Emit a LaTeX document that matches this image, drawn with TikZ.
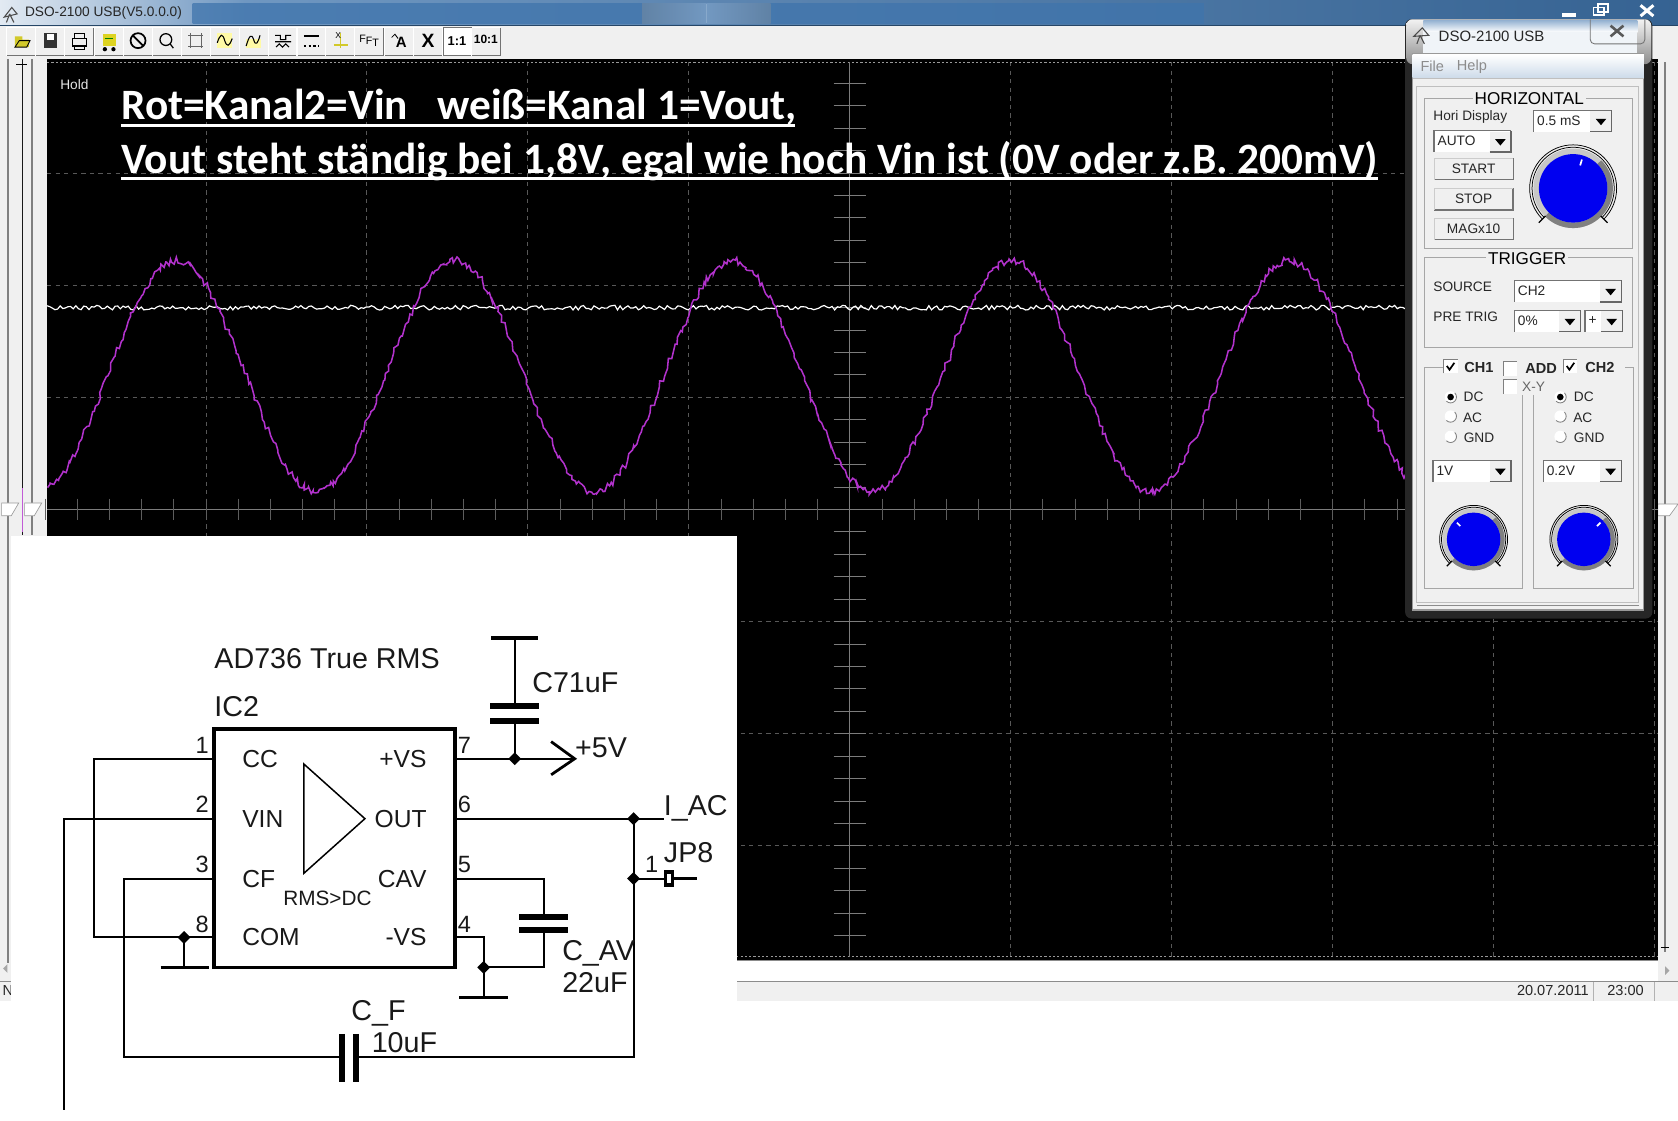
\documentclass[tikz,border=0pt]{standalone}
\usepackage{fontspec}
\setmainfont{Liberation Sans}
\newfontfamily\headfont{Carlito}[BoldFont=Carlito Bold]
\usetikzlibrary{calc}
\definecolor{winbg}{HTML}{F0F0F0}
\definecolor{axisgr}{HTML}{7C7C7C}
\definecolor{griddash}{HTML}{585858}
\definecolor{trace}{HTML}{B232CC}
\definecolor{knobblue}{HTML}{0000F0}
\definecolor{titleblue}{HTML}{3F74AC}
\tikzset{
  panellbl/.style={font=\fontsize{6.4}{7}\selectfont,inner sep=0pt,text=black!85},
  paneltitle/.style={font=\fontsize{8}{9}\selectfont,inner sep=1pt,fill=winbg,text=black},
  panelframe/.style={draw=black!35,line width=.4pt},
  wire/.style={draw=black,line width=.9pt},
  plate/.style={draw=black,line width=2.8pt},
  sch/.style={inner sep=0pt,text=black!90,font=\fontsize{11.5}{12}\selectfont},
  schbig/.style={inner sep=0pt,text=black!90,font=\fontsize{13.4}{14}\selectfont},
  pinno/.style={inner sep=0pt,text=black!90,font=\fontsize{11}{12}\selectfont},
  head/.style={inner sep=0pt,anchor=base west,text=white,font=\headfont\bfseries\fontsize{20.25}{22}\selectfont},
}
\newcommand{\tbtn}[1]{%
  \fill[winbg] (#1-13.5,26) rectangle (#1+13.5,52);
  \draw[black!55,line width=.5pt] (#1-13.5,52) -- (#1+13.5,52) -- (#1+13.5,26);
  \draw[white,line width=.5pt] (#1-13.5,52) -- (#1-13.5,26) -- (#1+13.5,26);}
\newcommand{\combo}[6]{% name x1 y1 x2 y2 text
  \fill[white] (#2,#3) rectangle (#4,#5);
  \draw[black!55,line width=.6pt] (#2,#5) -- (#2,#3) -- (#4,#3);
  \fill[winbg] (#4-20,#3+1) rectangle (#4,#5);
  \draw[black!60,line width=.7pt] (#4-20,#5) -- (#4,#5) -- (#4,#3);
  \fill[black] (#4-15,#3+8) -- (#4-5,#3+8) -- (#4-10,#3+14) -- cycle;
  \node[panellbl,anchor=west] (#1) at (#2+3,{(#3+#5)/2}) {#6};}
\newcommand{\pbtn}[4]{% name y text borderwidth
  \fill[winbg] (1340,#2) rectangle (1414,#2+20);
  \draw[black!55,line width=#4] (1340,#2+20) -- (1414,#2+20) -- (1414,#2);
  \draw[black!20,line width=.4pt] (1340,#2+20) -- (1340,#2) -- (1414,#2);
  \node[panellbl] (#1) at (1377,#2+10) {#3};}
\newcommand{\dsoknob}[4]{% x y R tick
  \begin{scope}[shift={(#1,#2)}]
    \fill[black!22] (0,0) circle[radius=#3*1.16];
    \draw[black!50,line width=#3*.08pt] (-45:#3*1.08) arc[start angle=-45,end angle=135,radius=#3*1.08];
    \draw[black,line width=.35pt] (45:#3*1.2) arc[start angle=45,end angle=-225,radius=#3*1.2];
    \draw[black,line width=.35pt] (45:#3*1.27) arc[start angle=45,end angle=-225,radius=#3*1.27];
    \draw[black,line width=.55pt] (45:#3*1.14) -- (45:#3*1.42);
    \draw[black,line width=.55pt] (135:#3*1.14) -- (135:#3*1.42);
    \fill[knobblue] (0,0) circle[radius=#3];
    \draw[white,line width=.8pt] (-#4:#3*.7) -- (-#4:#3*.88);
  \end{scope}}
\newcommand{\chk}[4]{% x y ticked(1/0) 
  \fill[white] (#1,#2) rectangle (#1+13,#2+13);
  \draw[black!50,line width=.5pt] (#1,#2+13) -- (#1,#2) -- (#1+13,#2);
  \ifnum#3=1 \draw[black,line width=.8pt] (#1+3,#2+6) -- (#1+5.5,#2+9.5) -- (#1+10,#2+3);\fi #4}
\newcommand{\radio}[3]{%
  \fill[white] (#1,#2) circle[radius=5.5];
  \draw[black!50,line width=.4pt] (#1-3.9,#2+3.9) arc[start angle=135,end angle=-45,radius=5.5];
  \ifnum#3=1 \fill[black] (#1,#2) circle[radius=3.1];\fi}
\newcommand{\junction}[1]{\fill[black] ($(#1)+(-6,0)$) -- ($(#1)+(0,-6)$) -- ($(#1)+(6,0)$) -- ($(#1)+(0,6)$) -- cycle;}
\begin{document}
\begin{tikzpicture}[x=0.5pt,y=-0.5pt]
\useasboundingbox (0,0) rectangle (1568,1046.6);
\fill[white] (0,0) rectangle (1568,1046.6);
% window
\fill[winbg] (0,0) rectangle (1568,935);
% title bar
\shade[left color=white!85!titleblue,right color=titleblue!75!white] (0,0) rectangle (230,24);
\shade[left color=titleblue!75!white,right color=titleblue!85!black] (230,0) rectangle (1568,24);
\shade[top color=titleblue,middle color=titleblue!55!black!60!white,bottom color=titleblue,opacity=.75] (180,3) rectangle (1125,22);
\shade[left color=titleblue!55!black!60!white,right color=white!50!titleblue,opacity=.5] (600,3) rectangle (660,22);
\shade[left color=white!50!titleblue,right color=titleblue!55!black!60!white,opacity=.5] (660,3) rectangle (720,22);
\draw[titleblue!60!black,line width=.5pt] (0,24) -- (1568,24);
\node[inner sep=0pt,anchor=west,font=\fontsize{6.4}{7}\selectfont,text=black!85] (wintitle) at (23,12) {DSO-2100 USB(V5.0.0.0)};
\draw[black!70,line width=.5pt] (4,16) -- (11,7) -- (16,13) -- cycle (9,13) -- (6,21) (9,13) -- (13,21);
% main window controls
\draw[white,line width=1.6pt] (1460,14) -- (1473,14);
\draw[white,line width=.9pt] (1489,7) rectangle (1499,14);
\draw[white,line width=.9pt] (1493,4) rectangle (1503,11);
\draw[white,line width=1.4pt] (1533,5) -- (1545,15) (1545,5) -- (1533,15);
% toolbar
\foreach \bx in {20,47,74,102,129,156,183,210,237,264,291,318,345,373,400,427,454}{\tbtn{\bx}}
\fill[white] (414,26) rectangle (441,51);
\draw[black!55,line width=.5pt] (414,52) -- (414,26) -- (441,26);
% icons
\fill[yellow!80!black] (14,34) -- (21,34) -- (21,37) -- (27,37) -- (27,44) -- (14,44) -- cycle;
\draw[black,line width=.4pt] (14,44) -- (18,38) -- (28,38) -- (25,44) -- cycle;
\fill[black!80] (41,31) rectangle (53,45);
\fill[white] (44,32) rectangle (50,37);
\draw[black,line width=.5pt] (68,36) rectangle (81,43);
\draw[black,line width=.5pt] (70,31) rectangle (79,36) (70,43) rectangle (79,46);
\fill[yellow!85!black] (96,32) rectangle (108,43);
\fill[black] (98,46) circle[radius=2] (106,46) circle[radius=2];
\draw[green!50!black,line width=.5pt] (98,36) -- (106,36);
\draw[black,line width=.8pt] (129,38) circle[radius=7] (124,33) -- (134,43);
\draw[black,line width=.6pt] (155,37) circle[radius=5.5] (159,41) -- (162,45);
\draw[black!60,line width=.4pt] (176,33) -- (190,33) (176,43) -- (190,43) (178,31) -- (178,45) (188,31) -- (188,45);
\fill[yellow!35] (203,31) rectangle (217,45);
\draw[black,line width=.5pt] (203,40) .. controls (206,31) and (208,31) .. (210,38) .. controls (212,44) and (214,44) .. (217,36);
\fill[yellow!35] (230,36) rectangle (244,45);
\draw[black,line width=.5pt] (230,43) .. controls (233,33) and (235,31) .. (237,37) .. controls (239,44) and (241,40) .. (243,33);
\draw[black,line width=.5pt] (257,33) -- (262,33) -- (262,37) -- (267,37) -- (267,33) -- (272,33) (257,39) -- (272,39) (258,44) -- (261,41) -- (264,44) -- (267,41) -- (270,44);
\draw[black,line width=.9pt] (284,34) -- (298,34);
\draw[black,line width=.9pt,dash pattern=on 1.2pt off 1pt] (284,43) -- (298,43);
\draw[yellow!80!black,line width=.7pt] (318,31) -- (318,45) (312,42) -- (325,42);
\node[inner sep=0pt,font=\fontsize{4}{4}\selectfont] (iconx) at (316,33) {X};
\node[inner sep=0pt,font=\fontsize{5}{5}\selectfont] (iconfft) at (345,38) {F\raisebox{-1pt}{F}\raisebox{-2pt}{T}};
\node[inner sep=0pt,font=\fontsize{7}{7}\bfseries\selectfont] (icona) at (375,40) {A};
\draw[black,line width=.4pt] (366,35) -- (369,32) -- (372,36);
\node[inner sep=0pt,font=\fontsize{9}{9}\bfseries\selectfont] (iconcross) at (400,38) {X};
\node[inner sep=0pt,font=\fontsize{6}{6}\bfseries\selectfont] (ratioa) at (427,38) {1:1};
\node[inner sep=0pt,font=\fontsize{5.6}{6}\bfseries\selectfont] (ratiob) at (454,37) {10:1};
% left rulers
\draw[black!50,line width=.7pt] (7.5,55) -- (7.5,900);
\draw[black!50,line width=.7pt] (30,55) -- (30,500);
\draw[black!90,line width=.6pt] (21,55) -- (21,500);
\draw[trace!80,line width=.9pt] (21,456) -- (21,497);
\draw[black,line width=.4pt] (15,60) -- (25,60);
\foreach \sx in {1.5,23}{
  \fill[white] (\sx,470) -- (\sx+11,470) -- (\sx+16,470) -- (\sx+9,482) -- (\sx,482) -- cycle;
  \draw[black!40,line width=.3pt] (\sx,470) -- (\sx+16,470) -- (\sx+9,482) -- (\sx,482) -- cycle;}
% right ruler
\draw[black!50,line width=.7pt] (1556,58) -- (1556,890);
\fill[white] (1549,471) -- (1560,471) -- (1568,471) -- (1560,482) -- (1549,482) -- cycle;
\draw[black!40,line width=.3pt] (1549,471) -- (1568,471) -- (1560,482) -- (1549,482) -- cycle;
\draw[black,line width=.4pt] (1552,885) -- (1560,885);
% scope screen
\fill[black] (44,55) rectangle (1549,897);
% grid
\begin{scope}[griddash,line width=.35pt,dash pattern=on 2pt off 2pt]
  \foreach \k in {-4,...,-1,1,2,...,5}{\draw (794+150.4*\k,58) -- (794+150.4*\k,895);}
  \foreach \k in {-3,-2,-1,1,2,3}{\draw (44,476+104.8*\k) -- (1549,476+104.8*\k);}
\end{scope}
\draw[black!40,line width=.35pt,dash pattern=on 1pt off 1pt] (44,58) -- (1549,58) (44,894) -- (1549,894);
% axes and ticks
\draw[axisgr,line width=.7pt] (44,476) -- (1549,476) (794,58) -- (794,894);
\foreach \k in {-19,...,19}{\ifnum\k=0\relax\else\draw[axisgr,line width=.4pt] (779,476+20.96*\k) -- (809,476+20.96*\k);\fi}
\foreach \k in {-25,...,25}{\ifnum\k=0\relax\else\draw[axisgr!75!black,line width=.35pt] (794+30.08*\k,466) -- (794+30.08*\k,486);\fi}
% traces
\pgfmathsetseed{736}
\draw[white,line width=.55pt] plot[domain=44:1313,samples=520] (\x,{287.5+2.2*rand});
\draw[trace,line width=.72pt] plot[domain=44:1316,samples=760] ({\x+1.2*rand},{351.5-108*cos(1.384615*(\x-165))+3.4*rand});
% bottom strip
\fill[white] (44,898) rectangle (1549,917);
\draw[black!45,line width=.7pt] (44,897.5) -- (1549,897.5);
\draw[black!45,line width=.6pt] (0,917) -- (1568,917);
\fill[winbg] (0,918) rectangle (1568,935);
\draw[black!30,line width=.4pt] (1489,918) -- (1489,935) (1546,918) -- (1546,935);
\fill[black!35] (1556,903) -- (1560,907) -- (1556,911) -- cycle;
\node[inner sep=0pt,anchor=east,font=\fontsize{6.8}{7}\selectfont,text=black!85] (datelbl) at (1485,926) {20.07.2011};
\node[inner sep=0pt,font=\fontsize{6.8}{7}\selectfont,text=black!85] (timelbl) at (1519,926) {23:00};
\node[inner sep=0pt,anchor=west,font=\fontsize{6.8}{7}\selectfont,text=black!85] (statusn) at (2,926) {N};
\fill[black!35] (3,905) -- (7,901) -- (7,909) -- cycle;
% on-screen text
\node[inner sep=0pt,anchor=west,font=\fontsize{6.4}{7}\selectfont,text=white!90!black] (hold) at (56,79) {Hold};
\node[head] (headA) at (113,112) {Rot=Kanal2=Vin\ \ \ weiß=Kanal 1=Vout,};
\node[head] (headB) at (113,162) {Vout steht ständig bei 1,8V, egal wie hoch Vin ist (0V oder z.B. 200mV)};
\draw[white,line width=1.5pt] (113,117) -- (743,117) (113,167) -- (1288,167);
% control panel
\fill[black!85,rounded corners=3pt] (1313,18) rectangle (1544,578);
\shade[top color=black!5,bottom color=black!45,rounded corners=3pt] (1314,18) rectangle (1543,60);
\shade[top color=titleblue!55!white,bottom color=white] (1330,19) rectangle (1530,30);
\fill[white!92!titleblue] (1330,30) rectangle (1530,50);
\draw[black!55,line width=.4pt,rounded corners=2pt] (1486,18) -- (1486,41) -- (1537,41) -- (1537,18);
\draw[black!65,line width=1.2pt] (1505,24) -- (1517,34) (1517,24) -- (1505,34);
\node[inner sep=0pt,anchor=west,font=\fontsize{7}{8}\selectfont,text=black!85] (ptitle) at (1344,34) {DSO-2100 USB};
\draw[black!70,line width=.5pt] (1321,34) -- (1329,26) -- (1335,33) -- cycle (1327,33) -- (1324,41) (1327,33) -- (1331,41);
\fill[winbg] (1320,50) rectangle (1536,570);
\draw[black!40,line width=.5pt] (1320,50) rectangle (1536,570);
\draw[black!45,line width=.4pt] (1324,566) -- (1532,566);
\shade[top color=white,bottom color=titleblue!25!white] (1320,51) rectangle (1536,72);
\draw[black!25,line width=.4pt] (1320,73) -- (1536,73);
\node[inner sep=0pt,anchor=west,font=\fontsize{6.8}{7}\selectfont,text=black!45] (menufile) at (1327,62) {File};
\node[inner sep=0pt,anchor=west,font=\fontsize{6.8}{7}\selectfont,text=black!45] (menuhelp) at (1361,62) {Help};
\draw[black!25,line width=.4pt] (1324,81) rectangle (1531,563);
% horizontal
\draw[panelframe] (1331,92) rectangle (1525,232);
\node[paneltitle] (thoriz) at (1429,92) {HORIZONTAL};
\node[panellbl,anchor=west] (horidisp) at (1339,109) {Hori Display};
\combo{cauto}{1340}{122}{1412}{142}{AUTO}
\combo{ctime}{1433}{103}{1506}{123}{0.5 mS}
\pbtn{bstart}{148}{START}{.6pt}
\pbtn{bstop}{176}{STOP}{1pt}
\pbtn{bmag}{204}{MAGx10}{.6pt}
\dsoknob{1470}{176}{32}{73}
% trigger
\draw[panelframe] (1331,241) rectangle (1525,325);
\node[paneltitle] (ttrig) at (1427,242) {TRIGGER};
\node[panellbl,anchor=west] (lsource) at (1339,268) {SOURCE};
\node[panellbl,anchor=west] (lpre) at (1339,296) {PRE TRIG};
\combo{csrc}{1415}{262}{1515}{282}{CH2}
\combo{cpre}{1415}{290}{1477}{310}{0\%}
\combo{csign}{1481}{290}{1516}{310}{+}
% channels
\draw[panelframe] (1349,343) -- (1331,343) -- (1331,550) -- (1423,550) -- (1423,369);
\draw[panelframe] (1433,369) -- (1433,550) -- (1526,550) -- (1526,343) -- (1518,343);
\chk{1349}{336}{1}{}
\chk{1405}{338}{0}{}
\chk{1461}{336}{1}{}
\chk{1405}{355}{0}{}
\node[panellbl,font=\fontsize{6.8}{7}\bfseries\selectfont] (lch1) at (1382,343) {CH1};
\node[panellbl,font=\fontsize{6.8}{7}\bfseries\selectfont] (ladd) at (1440,344) {ADD};
\node[panellbl,font=\fontsize{6.8}{7}\bfseries\selectfont] (lch2) at (1495,343) {CH2};
\node[panellbl,text=black!60] (lxy) at (1433,361) {X-Y};
\radio{1355.5}{371}{1}\radio{1355.5}{389}{0}\radio{1355.5}{408}{0}
\radio{1458}{371}{1}\radio{1458}{389}{0}\radio{1458}{408}{0}
\node[panellbl] (ldc1) at (1377,371) {DC};
\node[panellbl] (lac1) at (1376,390) {AC};
\node[panellbl] (lgnd1) at (1382,409) {GND};
\node[panellbl] (ldc2) at (1480,371) {DC};
\node[panellbl] (lac2) at (1479,390) {AC};
\node[panellbl] (lgnd2) at (1485,409) {GND};
\combo{cv1}{1339}{430}{1412}{450}{1V}
\combo{cv2}{1442}{430}{1515}{450}{0.2V}
\dsoknob{1377}{504}{25}{135}
\dsoknob{1480}{504}{25}{45}
% schematic sheet
\fill[white] (10,501) rectangle (689,1046.6);
\fill[white] (0,935) rectangle (1568,1046.6);
\coordinate (tl) at (200,681); \coordinate (br) at (425,904);
\draw[black,line width=1.7pt] (tl) rectangle (br);
\coordinate (p1) at (200,709); \coordinate (p2) at (200,765); \coordinate (p3) at (200,821); \coordinate (p8) at (200,876);
\coordinate (p7) at (425,709); \coordinate (p6) at (425,765); \coordinate (p5) at (425,821); \coordinate (p4) at (425,876);
\coordinate (cornA) at (88,709); \coordinate (cornB) at (88,876); \coordinate (dotcom) at (172,876); \coordinate (gndA) at (172,904);
\coordinate (vinA) at (60,765); \coordinate (vinB) at (60,1037);
\coordinate (cfA) at (116,821); \coordinate (cfB) at (116,988); \coordinate (cfL) at (320,988); \coordinate (cfR) at (333,988);
\coordinate (cfC) at (592,988); \coordinate (iac) at (592,765); \coordinate (iacEnd) at (620,765); \coordinate (jpdot) at (592,821); \coordinate (jpL) at (620,821);
\coordinate (dot7) at (481,709); \coordinate (arrowpt) at (537,709); \coordinate (c7top) at (481,596); \coordinate (c7a) at (481,660); \coordinate (c7b) at (481,674);
\coordinate (cavA) at (508,821); \coordinate (cavT) at (508,857); \coordinate (cavB) at (508,869); \coordinate (cavC) at (508,904); \coordinate (dot4) at (452,904); \coordinate (p4b) at (452,876); \coordinate (gndB) at (452,932);
\draw[wire] (p1) -- (cornA) -- (cornB) -- (p8);
\draw[wire] (p2) -- (vinA) -- (vinB);
\draw[wire] (p3) -- (cfA) -- (cfB) -- (cfL);
\draw[wire] (cfR) -- (cfC) -- (iac);
\draw[wire] (p6) -- (iacEnd);
\draw[wire] (jpdot) -- (jpL);
\draw[wire] (dotcom) -- (gndA);
\draw[black,line width=1.6pt] ($(gndA)+(-22,0)$) -- ($(gndA)+(23,0)$);
\draw[wire] (p7) -- (arrowpt);
\draw[black,line width=1.3pt] ($(arrowpt)+(-22,-16)$) -- (arrowpt) -- ($(arrowpt)+(-22,15)$);
\draw[wire] (dot7) -- (c7b);
\draw[wire] (c7a) -- (c7top);
\draw[black,line width=1.6pt] ($(c7top)+(-22,0)$) -- ($(c7top)+(22,0)$);
\draw[plate] ($(c7a)+(-23,0)$) -- ($(c7a)+(23,0)$);
\draw[plate] ($(c7b)+(-23,0)$) -- ($(c7b)+(23,0)$);
\draw[wire] (p5) -- (cavA) -- (cavT);
\draw[wire] (cavB) -- (cavC) -- (dot4);
\draw[plate] ($(cavT)+(-23,0)$) -- ($(cavT)+(23,0)$);
\draw[plate] ($(cavB)+(-23,0)$) -- ($(cavB)+(23,0)$);
\draw[wire] (p4) -- (p4b) -- (gndB);
\draw[black,line width=1.6pt] ($(gndB)+(-23,0)$) -- ($(gndB)+(23,0)$);
\draw[plate] ($(cfL)+(0,-22)$) -- ($(cfL)+(0,23)$);
\draw[plate] ($(cfR)+(0,-22)$) -- ($(cfR)+(0,23)$);
\junction{dotcom}\junction{dot7}\junction{iac}\junction{jpdot}\junction{dot4}
% JP8 pad
\fill[black] (620,813) rectangle (630,829);
\fill[white] (623,817) rectangle (627,825);
\draw[black,line width=1.5pt] (630,821) -- (651,821);
% triangle
\coordinate (tria) at (284,714); \coordinate (trib) at (341,765); \coordinate (tric) at (284,816);
\draw[black,line width=.7pt] (tria) -- (trib) -- (tric) -- cycle;
% schematic labels
\node[schbig,anchor=west] (ttl) at (200,615) {AD736 True RMS};
\node[schbig,anchor=west] (ic2) at (200,660) {IC2};
\node[sch,anchor=west] (lcc) at (226,709) {CC};
\node[sch,anchor=west] (lvin) at (226,765) {VIN};
\node[sch,anchor=west] (lcf) at (226,821) {CF};
\node[sch,anchor=west] (lcom) at (226,876) {COM};
\node[sch,anchor=east] (lvsp) at (399,709) {+VS};
\node[sch,anchor=east] (lout) at (399,765) {OUT};
\node[sch,anchor=east] (lcav) at (399,821) {CAV};
\node[sch,anchor=east] (lvsm) at (399,876) {-VS};
\node[inner sep=0pt,font=\fontsize{9.7}{10}\selectfont,text=black!90] (lrms) at (306,839) {RMS>DC};
\node[pinno] (n1) at (189,697) {1};
\node[pinno] (n2) at (189,752) {2};
\node[pinno] (n3) at (189,808) {3};
\node[pinno] (n8) at (189,864) {8};
\node[pinno] (n7) at (434,697) {7};
\node[pinno] (n6) at (434,752) {6};
\node[pinno] (n5) at (434,808) {5};
\node[pinno] (n4) at (434,864) {4};
\node[schbig,anchor=west] (lc7) at (497,638) {C71uF};
\node[schbig,anchor=west] (l5v) at (537,699) {+5V};
\node[schbig,anchor=west] (liac) at (620,755) {I\_AC};
\node[pinno] (njp) at (609,808) {1};
\node[schbig,anchor=west] (ljp) at (620,797) {JP8};
\node[schbig,anchor=west] (lcav2) at (525,891) {C\_AV};
\node[schbig,anchor=west] (l22) at (525,918) {22uF};
\node[schbig,anchor=west] (lcfb) at (328,947) {C\_F};
\node[schbig,anchor=west] (l10) at (347,974) {10uF};
\end{tikzpicture}
\end{document}
